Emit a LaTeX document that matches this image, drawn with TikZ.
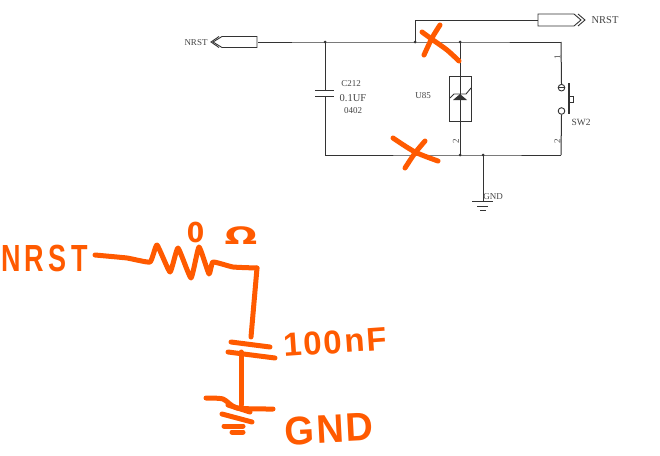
\documentclass[tikz,border=0pt]{standalone}
\usepackage{fontspec}
\setmainfont{Liberation Serif}
\newfontfamily\handfont[LetterSpace=16]{Liberation Sans}
\newfontfamily\capfont[LetterSpace=6]{Liberation Sans}
\newfontfamily\symbfont{DejaVu Sans}
\usepackage{pgf,tikz}
\definecolor{wirecol}{HTML}{333333}
\definecolor{lblcol}{HTML}{444444}
\definecolor{handcol}{HTML}{FF5A00}

\begin{document}
\begin{tikzpicture}[x=1pt,y=-1pt]

\tikzstyle{wire}=[draw=wirecol,line width=1pt]
\tikzstyle{part}=[draw=wirecol,line width=0.9pt]
\tikzstyle{dot}=[circle,fill=wirecol,inner sep=0pt,minimum size=3pt]
\tikzstyle{lbl}=[inner sep=0pt,text=lblcol,font=\fontsize{9}{9}\selectfont]
\tikzstyle{pin}=[inner sep=0pt,text=lblcol,font=\fontsize{9}{9}\selectfont,rotate=90]
\tikzstyle{hand}=[draw=handcol,line width=5pt,line cap=round,line join=round]
\tikzstyle{handtxt}=[inner sep=0pt,text=handcol]

\useasboundingbox (0,0) rectangle (660,455);

% junctions
\node[dot] (jtag) at (415,42) {} ;
\node[dot] (jcap) at (325,42) {} ;
\node[dot] (jtop) at (460,42) {} ;
\node[dot] (jbot) at (460,155) {} ;
\node[dot] (jgnd) at (483,155) {} ;
\coordinate (capbot) at (325,155) ;
\coordinate (swtop) at (561,42) ;
\coordinate (swbot) at (561,155) ;
\coordinate (tagin) at (258,42) ;
\coordinate (tagout) at (538,20) ;
\coordinate (tagup) at (415,20) ;
\coordinate (capa) at (325,90) ;
\coordinate (capb) at (325,96) ;
\coordinate (gndend) at (483,201) ;

% nets
\draw[wire] (tagin) -- (jcap.center) -- (jtag.center) -- (jtop.center) -- (swtop) ;
\draw[wire] (jtag.center) -- (tagup) -- (tagout) ;
\draw[wire] (capbot) -- (jbot.center) -- (jgnd.center) -- (swbot) ;
\draw[wire] (jcap.center) -- (capa) ;
\draw[wire] (capb) -- (capbot) ;
\draw[wire] (jgnd.center) -- (gndend) ;

% port tags
\draw[part,fill=white] (257,36.5) -- (222,36.5) -- (213,42) -- (222,47.5) -- (257,47.5) -- cycle ;
\draw[part] (219,36.5) -- (211,42) -- (219,47.5) ;
\draw[part,fill=white] (538,14) -- (574,14) -- (581,20) -- (574,26) -- (538,26) -- cycle ;
\draw[part] (578,14) -- (585,20) -- (578,26) ;

% capacitor
\draw[part] (315,90) -- (334,90) ;
\draw[part] (315,96) -- (334,96) ;

% tvs diode
\node[draw=wirecol,line width=0.9pt,minimum width=22pt,minimum height=45pt,inner sep=0pt] (U) at (460,98.5) {} ;
\draw[part] (jtop.center) -- (U.north) ;
\draw[part] (U.south) -- (jbot.center) ;
\draw[part] (U.north) -- (U.south) ;
\fill[wirecol] (460,94) -- (467,100) -- (453,100) -- cycle ;
\draw[part] (450,98) -- (454,94) -- (466,94) -- (471,88) ;

% switch
\node[circle,draw=wirecol,line width=0.9pt,minimum size=6.6pt,inner sep=0pt] (sa) at (561.5,87.7) {} ;
\node[circle,draw=wirecol,line width=0.9pt,minimum size=6.6pt,inner sep=0pt] (sb) at (561.5,111) {} ;
\draw[part] (sa.west) -- (sa.east) ;
\draw[wire] (swtop) -- (sa.north) ;
\draw[wire] (sb.south) -- (swbot) ;
\draw[draw=wirecol,line width=1.4pt] (569,83) -- (569,114) ;
\draw[part] (569.5,96) rectangle (573,102) ;

% ground symbol
\draw[part] (472,201) -- (493,201) ;
\draw[part] (477,206) -- (488,206) ;
\draw[part] (480,210) -- (486,210) ;

% labels
\node[lbl] (nrsta) at (196,43) {NRST} ;
\node[lbl,font=\fontsize{10.5}{10}\selectfont] (nrstb) at (605,20) {NRST} ;
\node[lbl] (cname) at (351,84) {C212} ;
\node[lbl,font=\fontsize{10.5}{10}\selectfont] (cval) at (353,98) {0.1UF} ;
\node[lbl] (cpkg) at (353,111) {0402} ;
\node[lbl] (uname) at (423,96) {U85} ;
\node[lbl,font=\fontsize{9.5}{10}\selectfont] (swname) at (581,122) {SW2} ;
\node[lbl] (gname) at (493,197) {GND} ;
\node[pin] (p1) at (557.5,57) {1} ;
\node[pin] (p2) at (456,141) {2} ;
\node[pin] (p3) at (557.5,141) {2} ;

% crosses
\draw[hand] plot[smooth] coordinates {(422,32) (433,40) (447,50) (459,61)} ;
\draw[hand] plot[smooth] coordinates {(440,25) (432,38) (424,55)} ;
\draw[hand] plot[smooth] coordinates {(393,138) (415,152) (438,161)} ;
\draw[hand] plot[smooth] coordinates {(425,141) (415,153) (405,168)} ;

% sketched circuit
\node[handtxt,anchor=west,font=\handfont\bfseries\fontsize{27}{27}\selectfont] (hnrst) at (1,258) {\scalebox{1}[1.4]{NRST}} ;
\node[handtxt,font=\symbfont\bfseries\fontsize{25}{25}\selectfont] (hzero) at (195.5,232) {\scalebox{1}[1.1]{0}} ;
\node[handtxt,font=\symbfont\bfseries\fontsize{24}{24}\selectfont] (hohm) at (241,236) {\scalebox{1.6}[1]{Ω}} ;
\node[handtxt,rotate=4,font=\capfont\bfseries\fontsize{33}{33}\selectfont] (hcap) at (335,342) {100nF} ;
\node[handtxt,rotate=3,font=\capfont\bfseries\fontsize{38}{38}\selectfont] (hgnd) at (329,429) {\scalebox{1}[1.05]{GND}} ;

\coordinate (rin) at (95,255) ;
\coordinate (cornera) at (257,268) ;
\coordinate (platea) at (251,337) ;
\coordinate (ptop) at (241,352) ;
\coordinate (pbot) at (241,405) ;

\draw[hand] plot[smooth,tension=0.25] coordinates {(rin) (127,258) (150,262) (157,245) (170,272) (178,248) (191,278) (199,247) (209,274) (213,262) (233,267) (cornera)} ;
\draw[hand] (cornera) -- (platea) ;
\draw[hand] (231,342) -- (270,347) ;
\draw[hand] (228,352) -- (275,358) ;
\draw[hand] (ptop) -- (pbot) ;
\draw[hand] plot[smooth,tension=0.4] coordinates {(206,398) (223,399) (237,408) (273,409)} ;
\draw[hand] (228,405) -- (250,412) ;
\draw[hand] (222,414) -- (252,422) ;
\draw[hand] (224,426) -- (243,426) ;
\draw[hand] (232,432) -- (243,432) ;

\end{tikzpicture}
\end{document}
